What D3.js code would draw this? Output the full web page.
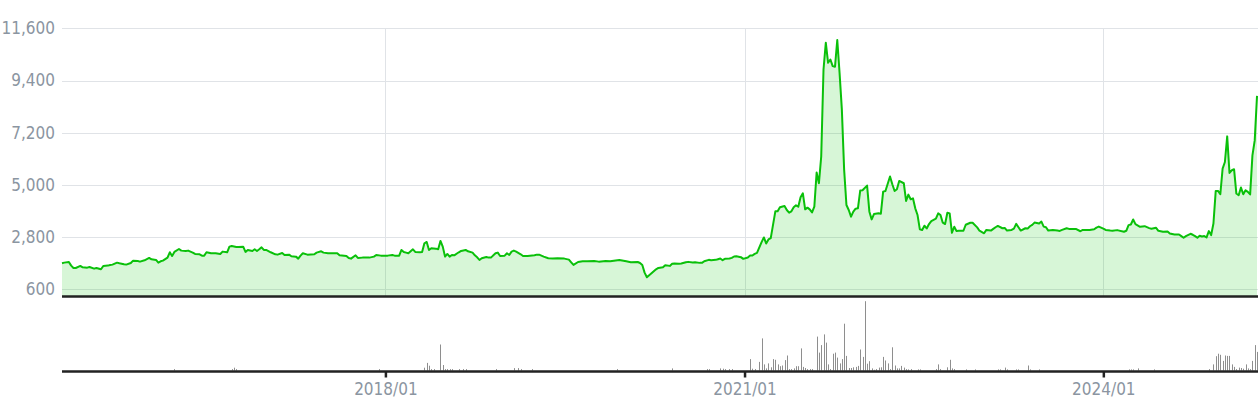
<!DOCTYPE html>
<html><head><meta charset="utf-8">
<script src="https://cdn.jsdelivr.net/npm/d3@7"></script>
<style>body{margin:0;background:#fff} svg{display:block}</style>
</head><body><svg id="c" width="1259" height="400"></svg>
<script>
const startDate = "2015-04-20";
const endDate = "2025-04-17";
const priceWeeks = [0,1,3,4,5,6,8,9,11,12,14,15,17,18,20,21,22,24,25,27,28,30,31,33,34,36,38,39,41,42,43,44,46,47,48,49,51,52,54,55,57,58,60,61,62,63,65,67,69,70,72,73,74,76,77,79,80,81,83,84,85,86,87,88,89,91,93,94,96,97,99,100,102,103,104,105,107,110,111,113,114,116,118,120,121,124,125,126,128,129,131,134,136,137,139,140,142,144,145,147,148,149,150,151,153,154,156,157,158,159,160,161,163,164,165,166,167,168,169,170,171,173,174,176,177,179,180,181,182,183,185,186,187,189,190,191,193,194,195,196,197,198,200,201,203,206,207,208,210,212,214,216,219,221,222,223,225,227,229,232,234,237,239,243,246,248,251,252,253,254,255,257,259,260,262,263,265,266,267,269,270,272,273,275,276,278,279,280,282,283,285,286,287,288,289,291,292,293,294,296,297,299,300,301,302,303,305,306,307,308,309,311,312,313,315,316,317,318,319,320,321,322,323,324,325,326,327,328,329,330,331,332,333,334,335,336,337,338,339,340,341,342,343,344,345,346,347,348,349,351,352,353,354,356,357,358,359,361,362,363,364,365,367,368,369,370,371,372,373,374,375,376,377,378,379,381,382,383,384,385,386,387,388,389,390,391,393,394,396,397,399,400,402,403,405,406,407,408,410,411,412,414,415,416,417,418,420,421,422,423,424,426,427,428,429,430,432,434,435,436,438,439,441,442,444,445,447,448,450,451,452,454,455,457,458,460,463,464,465,466,467,468,470,472,474,475,477,478,480,482,483,485,487,488,489,490,492,493,494,495,496,497,498,499,500,501,502,503,504,505,506,507,508,509,510,511,512,513,514,515,516,517,518,519,520,521];
const prices = [1700,1724,1752,1598,1499,1499,1584,1527,1513,1541,1471,1499,1443,1584,1598,1626,1640,1724,1696,1654,1640,1710,1808,1794,1766,1822,1921,1865,1837,1724,1780,1808,1935,2160,2005,2174,2300,2230,2216,2230,2146,2089,2075,2019,2019,2160,2117,2117,2089,2188,2160,2398,2426,2384,2384,2398,2174,2258,2216,2286,2216,2286,2370,2258,2258,2160,2075,2061,2131,2047,2061,1991,1977,1893,2019,2117,2061,2075,2146,2202,2146,2117,2117,2117,2033,2005,1921,1893,2033,1921,1935,1935,1977,2047,2019,2019,2019,2047,2019,2019,2258,2174,2146,2117,2286,2174,2160,2174,2539,2595,2258,2328,2314,2286,2637,2398,1977,2089,1977,2047,2033,2160,2216,2258,2202,2146,2033,1949,1837,1907,1963,1935,1935,2117,2146,2005,2019,2117,2047,2188,2230,2188,2075,2005,2005,2033,2061,2061,1977,1907,1893,1907,1893,1850,1738,1626,1752,1780,1780,1794,1766,1794,1780,1837,1780,1738,1752,1710,1626,1302,1106,1274,1443,1499,1527,1615,1587,1672,1686,1672,1686,1742,1756,1728,1742,1714,1714,1784,1841,1827,1841,1869,1897,1827,1883,1897,1925,1982,1996,1954,1883,1940,2024,2024,2095,2137,2588,2786,2532,2701,2757,3885,3885,4055,4111,3942,3829,3885,4055,4139,4083,4478,4647,3970,4040,3970,3843,4083,5521,5070,6198,9864,10992,10146,10287,10005,9977,11105,9723,8172,5634,4153,3942,3660,3871,3998,4012,4760,4774,4971,3871,3547,3772,3801,3787,4717,4745,5352,5027,4745,4816,5168,5070,4322,4590,4393,4435,4012,3730,3124,3096,3279,3166,3350,3476,3575,3801,3730,3406,3350,3829,3801,2983,3237,3053,3068,3068,3321,3406,3406,3208,3068,2962,3103,3075,3145,3215,3271,3173,3187,3075,3103,3159,3356,3215,3075,3173,3159,3257,3314,3412,3370,3454,3243,3215,3075,3103,3075,3061,3103,3173,3145,3145,3145,3046,3103,3103,3103,3131,3201,3243,3159,3103,3075,3066,3094,3024,3066,3304,3332,3542,3346,3234,3262,3178,3150,3192,3066,3024,3038,2954,2912,2912,2842,2772,2842,2940,2898,2842,2772,2856,2828,2842,2786,3052,2884,3374,4747,4747,4607,5686,5966,7045,5504,5616,5658,4635,4565,4887,4607,4775,4705,4600,6246,6876,8750];
const volWeeks = [49,74,75,76,138,158,159,160,161,162,165,166,167,168,169,170,173,175,176,189,197,199,200,205,242,266,281,282,287,288,289,291,292,300,301,302,304,305,306,307,308,309,310,311,312,313,314,315,316,317,318,319,320,321,322,323,324,325,326,327,329,330,331,332,333,334,335,336,337,338,339,340,341,342,343,344,345,346,347,348,349,350,351,352,353,354,355,356,357,358,359,360,361,362,363,364,365,366,367,368,369,370,373,374,381,382,383,386,387,388,389,394,398,408,409,411,412,416,417,421,422,426,465,466,467,469,476,500,502,503,504,505,506,507,508,509,510,511,512,513,514,515,516,517,518,519,520,521];
const volumes = [1.4,1.4,2.8,1.4,1.4,2.8,7.6,4.8,1.4,1.4,26,5.5,1.4,1.4,1.4,1.4,1.4,1.4,1.4,1.4,2.4,2.4,1.4,1.4,1.4,2.1,1.4,1.4,2.1,1.8,1.4,1.4,1.4,11.4,1.8,1.4,8.6,32.1,6.1,2.1,7.1,3.2,11.4,10.7,6.1,4.3,5,10.4,15,1.4,1.4,2.1,4.3,4.3,22.1,3.6,2.5,1.4,1.4,1.4,33.9,17.9,25.4,36.1,27.9,6.1,1.4,16.8,17.9,12.9,7.1,11.4,46.8,14.6,2.5,2.5,3.2,3.6,4.6,21,13.6,69.3,6.8,9.3,2.1,0.7,1.4,2.9,3.2,13.6,10,7.1,1.4,23.2,5,2.1,2.1,4.6,2.9,1.4,1.1,1.4,1.1,1.1,1.4,6.1,1.4,3.2,10.7,2.1,1.4,1.1,1.1,1.1,1.1,2.9,1.1,1.1,1.1,5,1.1,1.1,1.1,1.1,1.1,2.1,1.1,1.4,6.1,14.3,16.8,15.7,9.6,15,14.6,14.6,6.1,3.6,1.4,2.9,2.5,1.8,6.1,2.1,1.4,9.6,25.4,18.6];
const yTicks = [600, 2800, 5000, 7200, 9400, 11600];
const xTickDates = ["2018-01-01", "2021-01-01", "2024-01-01"];
const xTickLabels = ["2018/01", "2021/01", "2024/01"];

const parse = d3.utcParse("%Y-%m-%d");
const t0 = parse(startDate);
const weekDate = w => d3.utcDay.offset(t0, w * 7);

const L = 62, R = 1258;
const mainBottom = 296.5, volBase = 371.5;
const FONT = '"DejaVu Sans Condensed", "Liberation Sans", sans-serif';
const TXT = "#8b95a1";

const svg = d3.select("#c");
const x = d3.scaleUtc().domain([t0, parse(endDate)]).range([L, R]);
const y = d3.scaleLinear().domain([600, 11600]).range([289.3, 28.3]);
const yv = d3.scaleLinear().domain([0, 70]).range([volBase - 1, volBase - 71]);

const priceData = priceWeeks.map((w, i) => ({d: weekDate(w), v: prices[i]}));
const volData = volWeeks.map((w, i) => ({d: weekDate(w), v: volumes[i]}));

// grid
svg.append("g").selectAll("line").data(yTicks).join("line")
  .attr("x1", L).attr("x2", R)
  .attr("y1", d => Math.round(y(d)) + 0.5).attr("y2", d => Math.round(y(d)) + 0.5)
  .attr("stroke", "#e0e3e7").attr("stroke-width", 1);
svg.append("g").selectAll("line").data(xTickDates).join("line")
  .attr("x1", d => Math.round(x(parse(d))) + 0.5).attr("x2", d => Math.round(x(parse(d))) + 0.5)
  .attr("y1", y(11600)).attr("y2", mainBottom)
  .attr("stroke", "#e0e3e7").attr("stroke-width", 1);

// area + line
svg.append("path").datum(priceData)
  .attr("d", d3.area().x(d => x(d.d)).y0(mainBottom).y1(d => y(d.v)))
  .attr("fill", "rgba(0,195,0,0.155)");
svg.append("path").datum(priceData)
  .attr("d", d3.line().x(d => x(d.d)).y(d => y(d.v)))
  .attr("fill", "none").attr("stroke", "#0ac00a").attr("stroke-width", 2)
  .attr("stroke-linejoin", "round");

// main bottom border
svg.append("line").attr("x1", L).attr("x2", R).attr("y1", mainBottom).attr("y2", mainBottom)
  .attr("stroke", "#222").attr("stroke-width", 2.5);

// volume bars
svg.append("g").selectAll("rect").data(volData).join("rect")
  .attr("x", d => Math.round(x(d.d)))
  .attr("width", 1)
  .attr("y", d => yv(d.v))
  .attr("height", d => yv(0) - yv(d.v))
  .attr("fill", "#8e8e8e");

// volume x axis
const xAxis = d3.axisBottom(x)
  .tickValues(xTickDates.map(parse))
  .tickFormat((d, i) => xTickLabels[i])
  .tickSize(6).tickSizeOuter(0).tickPadding(5);
const gx = svg.append("g").attr("transform", `translate(0,${volBase})`).call(xAxis);
gx.select(".domain").remove();
gx.selectAll(".tick line").attr("stroke", "#222").attr("stroke-width", 2.5);
gx.selectAll("text").attr("fill", TXT).style("font-family", FONT).style("font-size", "17px");
svg.append("line").attr("x1", L).attr("x2", R).attr("y1", volBase).attr("y2", volBase)
  .attr("stroke", "#222").attr("stroke-width", 2.5);

// y axis labels
const yAxis = d3.axisLeft(y).tickValues(yTicks).tickFormat(d3.format(",")).tickSize(0).tickPadding(7);
const gy = svg.append("g").attr("transform", `translate(${L},0)`).call(yAxis);
gy.select(".domain").remove();
gy.selectAll("text").attr("fill", TXT).style("font-family", FONT).style("font-size", "17px");
</script>
</body></html>
